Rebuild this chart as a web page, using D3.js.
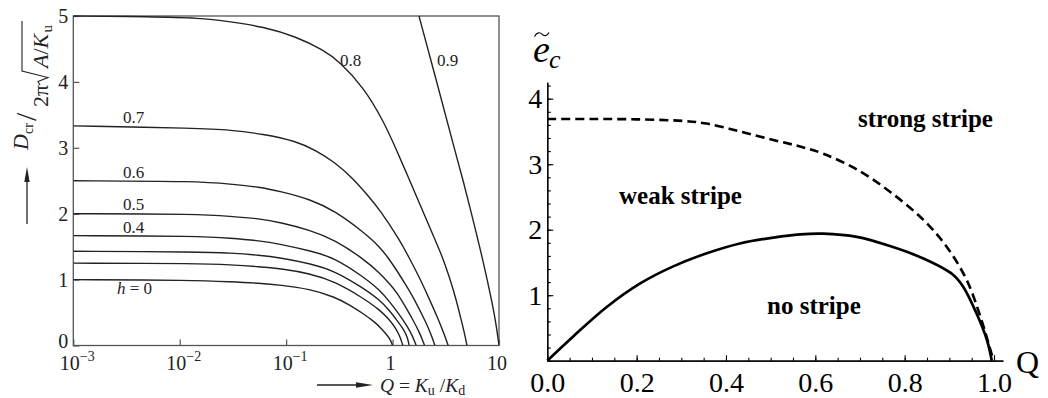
<!DOCTYPE html>
<html>
<head>
<meta charset="utf-8">
<script src="https://cdn.jsdelivr.net/npm/d3@7"></script>
<style>
  html, body { margin: 0; padding: 0; background: #fff; }
  svg { display: block; font-family: "Liberation Serif", "Times New Roman", serif; }
</style>
</head>
<body>
<svg id="fig" width="1048" height="398"></svg>
<script>
// ---------- Left panel: D_cr vs Q for several reduced fields h ----------
const fieldLabels = ["0", "0.2", "0.3", "0.4", "0.5", "0.6", "0.7", "0.8", "0.9"];

const curveH00 = [[0.001,1.0],[0.0133,0.99],[0.0296,0.968],[0.0566,0.944],[0.0873,0.918],[0.167,0.857],[0.287,0.736],[0.396,0.615],[0.528,0.486],[0.681,0.357],[0.809,0.235],[0.901,0.144],[0.962,0.076],[1.0,0]];
const curveH02 = [[0.001,1.25],[0.0155,1.245],[0.0296,1.225],[0.0566,1.195],[0.0873,1.168],[0.167,1.093],[0.287,0.971],[0.528,0.721],[0.759,0.539],[0.941,0.387],[1.075,0.258],[1.168,0.144],[1.25,0]];
const curveH03 = [[0.001,1.43],[0.0155,1.42],[0.0296,1.405],[0.0566,1.37],[0.0873,1.332],[0.167,1.244],[0.287,1.131],[0.528,0.873],[0.759,0.69],[0.941,0.524],[1.113,0.372],[1.283,0.235],[1.389,0.114],[1.43,0]];
const curveH04 = [[0.001,1.667],[0.0155,1.66],[0.0296,1.63],[0.0566,1.59],[0.0873,1.54],[0.167,1.439],[0.287,1.33],[0.528,1.045],[0.759,0.842],[0.941,0.66],[1.168,0.463],[1.389,0.281],[1.546,0.137],[1.667,0]];
const curveH05 = [[0.001,2.0],[0.0155,1.995],[0.0296,1.96],[0.0566,1.925],[0.0873,1.87],[0.167,1.753],[0.287,1.601],[0.528,1.32],[0.759,1.10],[0.941,0.933],[1.088,0.812],[1.30,0.607],[1.558,0.387],[1.80,0.19],[2.0,0]];
const curveH06 = [[0.001,2.5],[0.0155,2.492],[0.0296,2.45],[0.0566,2.405],[0.0873,2.34],[0.167,2.223],[0.287,2.041],[0.528,1.727],[0.759,1.499],[0.941,1.297],[1.088,1.146],[1.30,0.948],[1.558,0.741],[2.081,0.337],[2.308,0.159],[2.5,0]];
const curveH07 = [[0.001,3.333],[0.0155,3.296],[0.0296,3.27],[0.0604,3.21],[0.125,3.10],[0.19,2.96],[0.287,2.78],[0.426,2.53],[0.569,2.30],[0.759,2.06],[1.168,1.60],[1.451,1.313],[1.80,1.024],[2.236,0.69],[2.657,0.417],[3.025,0.19],[3.333,0]];
const curveH08 = [[0.001,5.0],[0.00525,4.99],[0.0155,4.97],[0.0296,4.914],[0.0608,4.837],[0.125,4.686],[0.223,4.484],[0.319,4.307],[0.528,3.927],[0.815,3.42],[1.088,2.967],[1.389,2.572],[1.80,2.147],[2.334,1.722],[2.897,1.373],[3.444,1.024],[3.922,0.721],[4.369,0.417],[4.712,0.205],[5.0,0]];
const curveH09 = [[1.77,5.0],[2.854,3.756],[3.837,2.967],[4.59,2.511],[5.31,2.106],[7.075,1.297],[8.783,0.589],[9.41,0.311],[10,0]];

const leftYTicks = [0, 1, 2, 3, 4, 5];
const leftXTicks = [1e-3, 1e-2, 1e-1, 1, 10];
const leftXTickBase = ["10", "10", "10", "1", "10"];
const leftXTickExp  = ["\u22123", "\u22122", "\u22121", "", ""];

// ---------- Right panel: stripe phase boundaries ----------
const dashedBoundary = [[0,3.69],[0.1,3.69],[0.2,3.685],[0.304,3.66],[0.357,3.62],[0.431,3.50],[0.506,3.37],[0.566,3.27],[0.618,3.16],[0.693,2.92],[0.767,2.58],[0.842,2.15],[0.894,1.74],[0.939,1.23],[0.972,0.62],[0.99,0.21],[0.999,0]];
const solidBoundary  = [[0,0],[0.058,0.37],[0.133,0.82],[0.208,1.18],[0.282,1.44],[0.357,1.64],[0.431,1.79],[0.506,1.88],[0.566,1.93],[0.618,1.94],[0.693,1.89],[0.767,1.75],[0.842,1.56],[0.907,1.32],[0.931,1.13],[0.961,0.72],[0.984,0.32],[0.995,0]];

const rightXMajor = [0, 0.2, 0.4, 0.6, 0.8, 1.0];
const rightYMajor = [1, 2, 3, 4];
const regionNames = ["strong stripe", "weak stripe", "no stripe"];

const svg = d3.select("#fig");
const ink = "#222";

// ===== Left panel =====
const xL = d3.scaleLog().domain([1e-3, 10]).range([73.3, 499]);
const yL = d3.scaleLinear().domain([0, 5]).range([345.5, 16]);

svg.append("defs").append("clipPath").attr("id", "leftClip")
  .append("rect").attr("x", xL(1e-3)).attr("y", yL(5) - 1)
  .attr("width", xL(10) - xL(1e-3)).attr("height", yL(0) - yL(5) + 1);

const gyL = svg.append("g").attr("transform", `translate(${xL(1e-3)},0)`)
  .call(d3.axisLeft(yL).tickValues(leftYTicks).tickSize(-6).tickPadding(5).tickFormat(d3.format("d")));
gyL.select(".domain").remove();
gyL.selectAll("line").attr("stroke", "#555").attr("stroke-width", 1.2);
gyL.selectAll("text").attr("font-size", 20).attr("fill", ink).attr("font-family", "Liberation Serif, serif");
// the zero sits a little higher so it clears the decade label beneath it
gyL.selectAll("text").filter(d => d === 0).attr("dy", "0.1em");

const gxL = svg.append("g").attr("transform", `translate(0,${yL(0)})`)
  .call(d3.axisBottom(xL).tickValues(leftXTicks).tickSize(-6).tickFormat(""));
gxL.select(".domain").remove();
gxL.selectAll("line").attr("stroke", "#555").attr("stroke-width", 1.2);

// decade labels with superscript exponents
const xLab = svg.append("g").attr("font-size", 20).attr("fill", ink);
leftXTicks.forEach((t, i) => {
  const tx = xLab.append("text")
    .attr("x", xL(t) + (leftXTickExp[i] ? 4 : -2))
    .attr("y", 370).attr("text-anchor", "middle");
  tx.append("tspan").text(leftXTickBase[i]);
  if (leftXTickExp[i]) tx.append("tspan").attr("font-size", 14).attr("dy", -9).text(leftXTickExp[i]);
});

// plot frame
svg.append("rect").attr("x", xL(1e-3)).attr("y", yL(5))
  .attr("width", xL(10) - xL(1e-3)).attr("height", yL(0) - yL(5))
  .attr("fill", "none").attr("stroke", "#555").attr("stroke-width", 1.3);

const lineL = d3.line().x(d => xL(d[0])).y(d => yL(d[1])).curve(d3.curveBasis);
const leftCurves = [curveH00, curveH02, curveH03, curveH04, curveH05, curveH06, curveH07, curveH08, curveH09];
svg.append("g").attr("clip-path", "url(#leftClip)")
  .selectAll("path").data(leftCurves).join("path")
  .attr("d", lineL).attr("fill", "none").attr("stroke", ink).attr("stroke-width", 1.4);

// curve labels
const curveLabelPos = [[117, 294], null, null, [123, 233], [123, 210], [123, 178], [123, 123], [340, 66], [437, 66]];
const cl = svg.append("g").attr("font-size", 17).attr("fill", ink);
fieldLabels.forEach((lab, i) => {
  const p = curveLabelPos[i];
  if (!p) return;
  const t = cl.append("text").attr("x", p[0]).attr("y", p[1]);
  if (lab === "0") {
    t.append("tspan").attr("font-style", "italic").text("h");
    t.append("tspan").text(" = 0");
  } else {
    t.text(lab);
  }
});

// y title: D_cr / 2π√(A/K_u), rotated, with arrow
const yt = svg.append("g").attr("transform", "translate(28,150) rotate(-90)").attr("fill", ink);
yt.append("text").attr("x", 0).attr("y", 0).attr("font-size", 22).attr("font-style", "italic").text("D");
yt.append("text").attr("x", 16).attr("y", 5).attr("font-size", 14).text("cr");
yt.append("text").attr("x", 29).attr("y", 8).attr("font-size", 30).text("/");
yt.append("text").attr("x", 43).attr("y", 20).attr("font-size", 22).text("2\u03c0");
yt.append("path").attr("d", "M65,12 L68.5,10 L72.5,20 L79,-6 L129,-6")
  .attr("fill", "none").attr("stroke", ink).attr("stroke-width", 1.1);
const den = yt.append("text").attr("x", 82).attr("y", 20).attr("font-size", 22);
den.append("tspan").attr("font-style", "italic").text("A");
den.append("tspan").text("/");
den.append("tspan").attr("font-style", "italic").text("K");
yt.append("text").attr("x", 117.5).attr("y", 24).attr("font-size", 15).text("u");

svg.append("line").attr("x1", 27).attr("y1", 224).attr("x2", 27).attr("y2", 178)
  .attr("stroke", ink).attr("stroke-width", 1.3);
svg.append("polygon").attr("points", "27,167 24.3,182 29.7,182").attr("fill", ink);

// x title with arrow: Q = K_u / K_d
svg.append("line").attr("x1", 317).attr("y1", 385).attr("x2", 360).attr("y2", 385)
  .attr("stroke", ink).attr("stroke-width", 1.3);
svg.append("polygon").attr("points", "373,385 356,382.3 356,387.7").attr("fill", ink);
const xt = svg.append("text").attr("x", 380).attr("y", 392).attr("font-size", 19.5).attr("fill", ink);
xt.append("tspan").attr("font-style", "italic").text("Q");
xt.append("tspan").text(" = ");
xt.append("tspan").attr("font-style", "italic").text("K");
xt.append("tspan").attr("font-size", 14).attr("dy", 2.5).text("u");
xt.append("tspan").attr("dy", -2.5).text(" /");
xt.append("tspan").attr("font-style", "italic").text("K");
xt.append("tspan").attr("font-size", 14).attr("dy", 2.5).text("d");

// ===== Right panel =====
const xR = d3.scaleLinear().domain([0, 1.02]).range([547.3, 547.3 + 446.7 * 1.02]);
const yR = d3.scaleLinear().domain([0, 4.25]).range([360.7, 360.7 - 65.5 * 4.25]);

const styleAxis = g => {
  g.selectAll("path.domain").attr("stroke", "#000").attr("stroke-width", 1.2);
  g.selectAll("line").attr("stroke", "#000").attr("stroke-width", 1.1);
  g.selectAll("text").attr("font-size", 28).attr("fill", "#000").attr("font-family", "Liberation Serif, serif");
};

svg.append("g").attr("transform", `translate(0,${yR(0)})`)
  .call(d3.axisBottom(xR).tickValues(d3.range(0, 1.001, 0.05)).tickSize(-3).tickSizeOuter(0).tickFormat(""))
  .call(styleAxis);
svg.append("g").attr("transform", `translate(0,${yR(0)})`)
  .call(d3.axisBottom(xR).tickValues(rightXMajor).tickSize(-5.5).tickSizeOuter(0).tickPadding(11).tickFormat(d3.format(".1f")))
  .call(styleAxis);
svg.append("g").attr("transform", `translate(${xR(0)},0)`)
  .call(d3.axisLeft(yR).tickValues(d3.range(0, 4.21, 0.2)).tickSize(-3.5).tickSizeOuter(0).tickFormat(""))
  .call(styleAxis);
svg.append("g").attr("transform", `translate(${xR(0)},0)`)
  .call(d3.axisLeft(yR).tickValues(rightYMajor).tickSize(-6).tickSizeOuter(0).tickPadding(5).tickFormat(d3.format("d")))
  .call(styleAxis);

const lineR = d3.line().x(d => xR(d[0])).y(d => yR(d[1])).curve(d3.curveCatmullRom.alpha(0.5));
svg.append("path").datum(dashedBoundary).attr("d", lineR)
  .attr("fill", "none").attr("stroke", "#000").attr("stroke-width", 2.6).attr("stroke-dasharray", "9,5");
svg.append("path").datum(solidBoundary).attr("d", lineR)
  .attr("fill", "none").attr("stroke", "#000").attr("stroke-width", 2.7);

// axis names: e with a tilde accent, subscript c
svg.append("path").attr("d", "M534.5,36.5 C537,32 540,32 542,34.2 C544,36.4 547,36.4 549,32.5")
  .attr("fill", "none").attr("stroke", "#000").attr("stroke-width", 1.2);
svg.append("text").attr("x", 533).attr("y", 62).attr("font-size", 38).attr("font-style", "italic").text("e");
svg.append("text").attr("x", 549).attr("y", 68).attr("font-size", 26).attr("font-style", "italic").text("c");
svg.append("text").attr("x", 1016).attr("y", 373).attr("font-size", 32).text("Q");

// region names
const regionPos = [[858, 127], [619, 204], [767, 314]];
svg.append("g").attr("font-size", 25).attr("font-weight", "bold")
  .selectAll("text").data(regionNames).join("text")
  .attr("x", (d, i) => regionPos[i][0]).attr("y", (d, i) => regionPos[i][1]).text(d => d);
</script>
</body>
</html>
